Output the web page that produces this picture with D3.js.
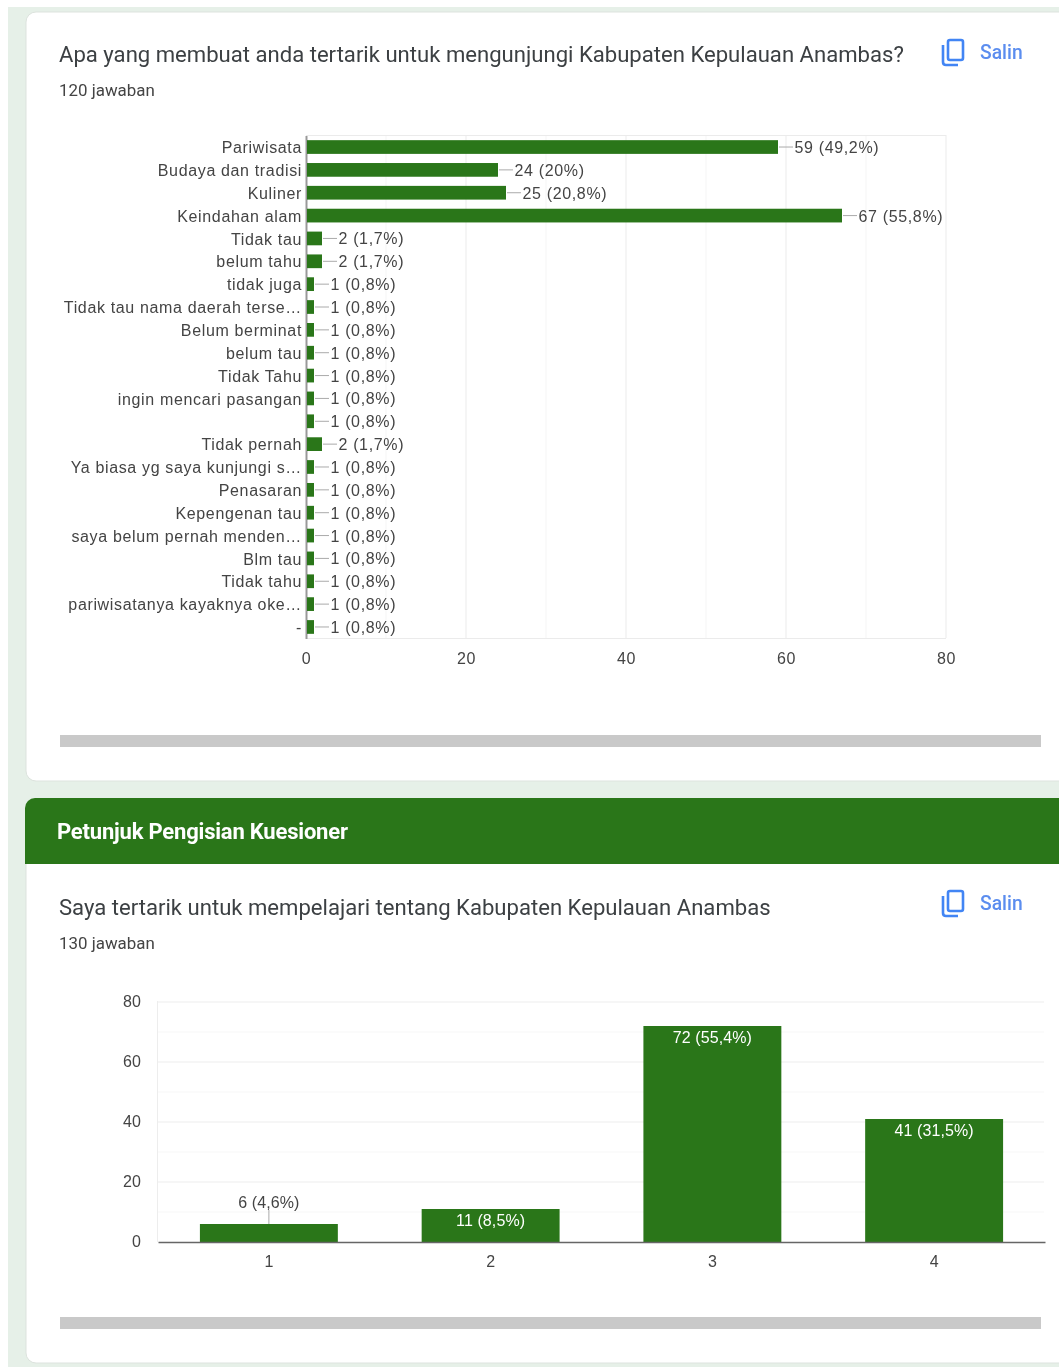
<!DOCTYPE html>
<html>
<head>
<meta charset="utf-8">
<script src="https://d3js.org/d3.v7.min.js"></script>
<style>
  html, body { margin: 0; padding: 0; background: #fff; overflow: hidden; }
  svg { display: block; filter: blur(0.4px); }
  .axisText { font-family: "Liberation Sans", Arial, sans-serif; font-size: 16px; letter-spacing: 0.65px; fill: #444; }
  .axisText2 { font-family: "Liberation Sans", Arial, sans-serif; font-size: 16px; letter-spacing: 0.1px; fill: #444; }
  .title { font-family: Roboto, sans-serif; font-size: 22.1px; fill: #3c4043; }
  .count { font-family: Roboto, sans-serif; font-size: 16.9px; fill: #444; }
  .salin { font-family: Roboto, sans-serif; font-size: 19.3px; font-weight: 500; fill: #5b8def; }
</style>
</head>
<body>
<div id="chart"></div>
<script>
var svgWidth = 1059;
var svgHeight = 1367;
var green = "#2a7619";

// first chart
var interestLabels = ["Pariwisata", "Budaya dan tradisi", "Kuliner", "Keindahan alam", "Tidak tau", "belum tahu", "tidak juga",
  "Tidak tau nama daerah terse…", "Belum berminat", "belum tau", "Tidak Tahu", "ingin mencari pasangan", " ", "Tidak pernah",
  "Ya biasa yg saya kunjungi s…", "Penasaran", "Kepengenan tau", "saya belum pernah menden…", "Blm tau", "Tidak tahu",
  "pariwisatanya kayaknya oke…", "-"];
var interestValues = [59, 24, 25, 67, 2, 2, 1, 1, 1, 1, 1, 1, 1, 2, 1, 1, 1, 1, 1, 1, 1, 1];
var interestPercents = ["49,2%", "20%", "20,8%", "55,8%", "1,7%", "1,7%", "0,8%", "0,8%", "0,8%", "0,8%", "0,8%", "0,8%", "0,8%",
  "1,7%", "0,8%", "0,8%", "0,8%", "0,8%", "0,8%", "0,8%", "0,8%", "0,8%"];
var interestTicks = [0, 20, 40, 60, 80];
var interestMinor = [10, 30, 50, 70];

// second chart
var scaleLabels = ["1", "2", "3", "4"];
var scaleValues = [6, 11, 72, 41];
var scalePercents = ["4,6%", "8,5%", "55,4%", "31,5%"];
var scaleTicks = [0, 20, 40, 60, 80];
var scaleMinor = [10, 30, 50, 70];

var svg = d3.select("#chart")
  .append("svg")
  .attr("width", svgWidth)
  .attr("height", svgHeight);

// page background and the two cards
svg.append("rect").attr("x", 8).attr("y", 7).attr("width", svgWidth - 8).attr("height", svgHeight - 7).attr("fill", "#e6f0e8");
svg.append("rect").attr("x", 26).attr("y", 12).attr("width", svgWidth + 20).attr("height", 769).attr("rx", 10)
  .attr("fill", "#fff").attr("stroke", "#dde3de");
svg.append("rect").attr("x", 26).attr("y", 810).attr("width", svgWidth + 20).attr("height", 553).attr("rx", 10)
  .attr("fill", "#fff").attr("stroke", "#dde3de");
svg.append("rect").attr("x", 25).attr("y", 798).attr("width", svgWidth + 20).attr("height", 40).attr("rx", 10).attr("fill", green);
svg.append("rect").attr("x", 25).attr("y", 815).attr("width", svgWidth).attr("height", 49).attr("fill", green);

svg.append("text").attr("x", 57).attr("y", 839)
  .style("font-family", "Roboto, sans-serif").style("font-size", "22px").style("font-weight", "700")
  .style("letter-spacing", "-0.2px").style("fill", "#fff")
  .text("Petunjuk Pengisian Kuesioner");

// question headers
function header(title, count, top, salinY) {
  svg.append("text").attr("class", "title").attr("x", 59).attr("y", top).text(title);
  svg.append("text").attr("class", "count").attr("x", 59).attr("y", top + 34).text(count);

  // copy icon + Salin
  var icon = svg.append("g").attr("transform", `translate(942, ${salinY - 18})`)
    .attr("fill", "none").attr("stroke", "#4285f4").attr("stroke-width", 2.6);
  icon.append("rect").attr("x", 6).attr("y", -1).attr("width", 15).attr("height", 20).attr("rx", 2);
  icon.append("path").attr("d", "M1 4 V21 Q1 24 4 24 H16");
  svg.append("text").attr("class", "salin").attr("x", 980).attr("y", salinY).text("Salin");
}
header("Apa yang membuat anda tertarik untuk mengunjungi Kabupaten Kepulauan Anambas?", "120 jawaban", 62, 59);
header("Saya tertarik untuk mempelajari tentang Kabupaten Kepulauan Anambas", "130 jawaban", 915, 910);

// scroll bars
svg.append("rect").attr("x", 60).attr("y", 735).attr("width", 981).attr("height", 12).attr("fill", "#c9c9c9");
svg.append("rect").attr("x", 60).attr("y", 1317).attr("width", 981).attr("height", 12).attr("fill", "#c9c9c9");

// ---- horizontal chart ----
var xLinearScale = d3.scaleLinear().domain([0, 80]).range([306, 946]);
var yBandScale = d3.scaleBand().domain(d3.range(interestLabels.length)).range([135.6, 638.4]).paddingInner(0.4).paddingOuter(0.2);

var hChart = svg.append("g");

hChart.selectAll(".minor").data(interestMinor).enter().append("line")
  .attr("x1", d => xLinearScale(d)).attr("x2", d => xLinearScale(d))
  .attr("y1", 135).attr("y2", 638).attr("stroke", "#f5f5f5");
hChart.selectAll(".major").data(interestTicks.slice(1)).enter().append("line")
  .attr("x1", d => xLinearScale(d)).attr("x2", d => xLinearScale(d))
  .attr("y1", 135).attr("y2", 638).attr("stroke", "#ebebeb");
hChart.append("line").attr("x1", 306).attr("x2", 946).attr("y1", 135.5).attr("y2", 135.5).attr("stroke", "#ebebeb");
hChart.append("line").attr("x1", 306).attr("x2", 946).attr("y1", 638.5).attr("y2", 638.5).attr("stroke", "#ebebeb");

var bottomAxis = d3.axisBottom(xLinearScale).tickValues(interestTicks).tickSize(0).tickPadding(15);
var xAxis = hChart.append("g").attr("transform", "translate(0, 638)").call(bottomAxis);
xAxis.select(".domain").remove();
xAxis.selectAll("text").attr("class", "axisText");

var leftAxis = d3.axisLeft(d3.scaleBand().domain(d3.range(interestLabels.length)).range([135.6, 638.4]))
  .tickFormat(i => interestLabels[i]).tickSize(0).tickPadding(4);
var yAxis = hChart.append("g").attr("transform", "translate(306, 0)").call(leftAxis);
yAxis.select(".domain").attr("stroke", "#999").attr("stroke-width", 2);
yAxis.selectAll("text").attr("class", "axisText").attr("dy", "0.38em");

hChart.selectAll(".bar").data(interestValues).enter().append("rect")
  .attr("x", 307)
  .attr("y", (d, i) => yBandScale(i))
  .attr("width", d => xLinearScale(d) - 307)
  .attr("height", yBandScale.bandwidth())
  .attr("fill", green);

hChart.selectAll(".leader").data(interestValues).enter().append("line")
  .attr("x1", d => xLinearScale(d) + 1)
  .attr("x2", d => xLinearScale(d) + 15)
  .attr("y1", (d, i) => yBandScale(i) + yBandScale.bandwidth() / 2)
  .attr("y2", (d, i) => yBandScale(i) + yBandScale.bandwidth() / 2)
  .attr("stroke", "#aaa");

hChart.selectAll(".barLabel").data(interestValues).enter().append("text")
  .attr("class", "axisText")
  .attr("x", d => xLinearScale(d) + 16.5)
  .attr("y", (d, i) => yBandScale(i) + yBandScale.bandwidth() / 2 + 6)
  .text((d, i) => `${d} (${interestPercents[i]})`);

// ---- vertical chart ----
var xScale2 = d3.scaleBand().domain(scaleLabels).range([158, 1045]).paddingInner(0.378).paddingOuter(0.189);
var yScale2 = d3.scaleLinear().domain([0, 80]).range([1242, 1002]);

var vChart = svg.append("g");

vChart.selectAll(".minor").data(scaleMinor).enter().append("line")
  .attr("x1", 157).attr("x2", 1044)
  .attr("y1", d => yScale2(d)).attr("y2", d => yScale2(d)).attr("stroke", "#f7f7f7");
vChart.selectAll(".major").data(scaleTicks.slice(1)).enter().append("line")
  .attr("x1", 157).attr("x2", 1044)
  .attr("y1", d => yScale2(d)).attr("y2", d => yScale2(d)).attr("stroke", "#ededed");
vChart.append("line").attr("x1", 157.5).attr("x2", 157.5).attr("y1", 1001).attr("y2", 1242).attr("stroke", "#ededed");

var yAxis2 = vChart.append("g").attr("transform", "translate(157, 0)")
  .call(d3.axisLeft(yScale2).tickValues(scaleTicks).tickSize(0).tickPadding(16));
yAxis2.select(".domain").remove();
yAxis2.selectAll("text").attr("class", "axisText2").attr("dy", "0.3em");

vChart.selectAll(".bar").data(scaleValues).enter().append("rect")
  .attr("x", (d, i) => xScale2(scaleLabels[i]))
  .attr("y", d => yScale2(d))
  .attr("width", xScale2.bandwidth())
  .attr("height", d => yScale2(0) - yScale2(d))
  .attr("fill", green);

var xAxis2 = vChart.append("g").attr("transform", "translate(0, 1242)")
  .call(d3.axisBottom(xScale2).tickSize(0).tickPadding(14));
xAxis2.select(".domain").attr("stroke", "#666").attr("stroke-width", 1.5);
xAxis2.selectAll("text").attr("class", "axisText2");

// small bar gets its label above with a leader, the others inside
vChart.selectAll(".barLabel").data(scaleValues).enter().append("text")
  .attr("class", "axisText2")
  .attr("text-anchor", "middle")
  .attr("x", (d, i) => xScale2(scaleLabels[i]) + xScale2.bandwidth() / 2)
  .attr("y", d => d < 10 ? yScale2(d) - 16 : yScale2(d) + 17)
  .style("fill", d => d < 10 ? "#444" : "#fff")
  .text((d, i) => `${d} (${scalePercents[i]})`);

vChart.selectAll(".leader").data(scaleValues.filter(d => d < 10)).enter().append("line")
  .attr("x1", xScale2("1") + xScale2.bandwidth() / 2)
  .attr("x2", xScale2("1") + xScale2.bandwidth() / 2)
  .attr("y1", d => yScale2(d) - 14)
  .attr("y2", d => yScale2(d))
  .attr("stroke", "#aaa");
</script>
</body>
</html>
